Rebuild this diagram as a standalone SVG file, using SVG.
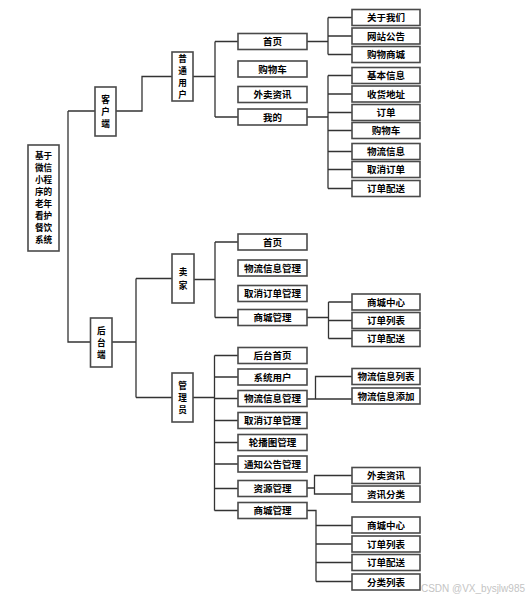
<svg xmlns="http://www.w3.org/2000/svg" width="530" height="602" viewBox="0 0 530 602">
<style>
rect{fill:#fff;stroke:#4a4a4a;stroke-width:1.6}
text{font-family:"Noto Sans CJK SC","Noto Sans",sans-serif;font-weight:bold;font-size:9.5px;fill:#000;text-anchor:middle}
.v{font-size:8.6px}
.c path{fill:none;stroke:#333;stroke-width:1.3}
.wm{font-family:"Liberation Sans",Arial,sans-serif;font-weight:normal;font-size:10px;fill:#c4c4c4;text-anchor:end}
</style>
<rect x="0" y="0" width="530" height="602" style="fill:#fff;stroke:none"/>
<g class="c" id="connectors">
<path d="M68 111V342H90.5M68 111H95"/>
<path d="M116 111H142V76.5H172"/>
<path d="M193 76.5H215M215 41.5V117M215 41.5H238M215 117H238"/>
<path d="M307 41.5H328M328 17.5V54.5M328 17.5H352M328 36H352M328 54.5H352"/>
<path d="M307 117H328M328 75.5V188.5M328 75.5H352M328 94H352M328 112.5H352M328 130.5H352M328 151.5H352M328 169.5H352M328 188.5H352"/>
<path d="M112 342H136M136 278.5V397.5M136 278.5H172M136 397.5H172"/>
<path d="M194 279.5H215M215 242V317.5M215 242H238M215 317.5H238"/>
<path d="M307 317.5H328.5M328.5 302V338.5M328.5 302H352M328.5 320.5H352M328.5 338.5H352"/>
<path d="M193 397.5H214.5M214.5 355.5V510.5M214.5 355.5H238M214.5 377H238M214.5 398.5H238M214.5 420.5H238M214.5 442.5H238M214.5 464H238M214.5 488.5H238M214.5 510.5H238"/>
<path d="M307 399H352M315.5 399V376.5H352"/>
<path d="M307 488H314.5V475.5H352M314.5 488V494H352"/>
<path d="M307 510.5H316V581.5M316 525.5H352M316 544H352M316 562.5H352M316 581.5H352"/>
</g>
<g id="root"><rect x="28" y="145" width="31" height="106"/>
<text class="v" x="43.5" y="159">基于</text><text class="v" x="43.5" y="171">微信</text><text class="v" x="43.5" y="183">小程</text><text class="v" x="43.5" y="195">序的</text><text class="v" x="43.5" y="207">老年</text><text class="v" x="43.5" y="219">看护</text><text class="v" x="43.5" y="231">餐饮</text><text class="v" x="43.5" y="243">系统</text></g>
<g id="kehuduan"><rect x="95" y="87" width="21" height="49"/><text class="v" x="105.5" y="102.5">客</text><text class="v" x="105.5" y="114.5">户</text><text class="v" x="105.5" y="126.5">端</text></g>
<g id="putongyonghu"><rect x="172" y="52" width="21" height="49"/><text class="v" x="182.5" y="62">普</text><text class="v" x="182.5" y="74">通</text><text class="v" x="182.5" y="86">用</text><text class="v" x="182.5" y="98">户</text></g>
<g id="houtaiduan"><rect x="90.5" y="318" width="21.5" height="49"/><text class="v" x="101.25" y="333.5">后</text><text class="v" x="101.25" y="345.5">台</text><text class="v" x="101.25" y="357.5">端</text></g>
<g id="maijia"><rect x="172" y="254" width="22" height="49"/><text class="v" x="183" y="275">卖</text><text class="v" x="183" y="288.5">家</text></g>
<g id="guanliyuan"><rect x="172" y="373" width="21" height="49"/><text class="v" x="182.5" y="388.5">管</text><text class="v" x="182.5" y="400.5">理</text><text class="v" x="182.5" y="412.5">员</text></g>
<g id="u-home"><rect x="238" y="33.5" width="69" height="16"/><text x="272.5" y="45">首页</text></g>
<g id="u-cart"><rect x="238" y="61" width="69" height="16"/><text x="272.5" y="72.5">购物车</text></g>
<g id="u-news"><rect x="238" y="86.5" width="69" height="16"/><text x="272.5" y="98">外卖资讯</text></g>
<g id="u-mine"><rect x="238" y="109" width="69" height="16"/><text x="272.5" y="120.5">我的</text></g>
<g id="h-about"><rect x="352" y="9.5" width="68" height="16"/><text x="386" y="21">关于我们</text></g>
<g id="h-notice"><rect x="352" y="28" width="68" height="16"/><text x="386" y="39.5">网站公告</text></g>
<g id="h-mall"><rect x="352" y="46.5" width="68" height="16"/><text x="386" y="58">购物商城</text></g>
<g id="m-info"><rect x="352" y="67.5" width="68" height="16"/><text x="386" y="79">基本信息</text></g>
<g id="m-addr"><rect x="352" y="86" width="68" height="16"/><text x="386" y="97.5">收货地址</text></g>
<g id="m-order"><rect x="352" y="104.5" width="68" height="16"/><text x="386" y="116">订单</text></g>
<g id="m-cart"><rect x="352" y="122.5" width="68" height="16"/><text x="386" y="134">购物车</text></g>
<g id="m-logi"><rect x="352" y="143.5" width="68" height="16"/><text x="386" y="155">物流信息</text></g>
<g id="m-cancel"><rect x="352" y="161.5" width="68" height="16"/><text x="386" y="173">取消订单</text></g>
<g id="m-deliver"><rect x="352" y="180.5" width="68" height="16"/><text x="386" y="192">订单配送</text></g>
<g id="s-home"><rect x="238" y="234" width="69" height="16"/><text x="272.5" y="245.5">首页</text></g>
<g id="s-logi"><rect x="238" y="260" width="69" height="16"/><text x="272.5" y="271.5">物流信息管理</text></g>
<g id="s-cancel"><rect x="238" y="285.5" width="69" height="16"/><text x="272.5" y="297">取消订单管理</text></g>
<g id="s-mall"><rect x="238" y="309.5" width="69" height="16"/><text x="272.5" y="321">商城管理</text></g>
<g id="sm-center"><rect x="352" y="294" width="68" height="16"/><text x="386" y="305.5">商城中心</text></g>
<g id="sm-list"><rect x="352" y="312.5" width="68" height="16"/><text x="386" y="324">订单列表</text></g>
<g id="sm-deliver"><rect x="352" y="330.5" width="68" height="16"/><text x="386" y="342">订单配送</text></g>
<g id="a-home"><rect x="238" y="347.5" width="69" height="16"/><text x="272.5" y="359">后台首页</text></g>
<g id="a-user"><rect x="238" y="369" width="69" height="16"/><text x="272.5" y="380.5">系统用户</text></g>
<g id="a-logi"><rect x="238" y="390.5" width="69" height="16"/><text x="272.5" y="402">物流信息管理</text></g>
<g id="a-cancel"><rect x="238" y="412.5" width="69" height="16"/><text x="272.5" y="424">取消订单管理</text></g>
<g id="a-banner"><rect x="238" y="434.5" width="69" height="16"/><text x="272.5" y="446">轮播图管理</text></g>
<g id="a-notice"><rect x="238" y="456" width="69" height="16"/><text x="272.5" y="467.5">通知公告管理</text></g>
<g id="a-res"><rect x="238" y="480.5" width="69" height="16"/><text x="272.5" y="492">资源管理</text></g>
<g id="a-mall"><rect x="238" y="502.5" width="69" height="16"/><text x="272.5" y="514">商城管理</text></g>
<g id="al-list"><rect x="352" y="368.5" width="68" height="16"/><text x="386" y="380">物流信息列表</text></g>
<g id="al-add"><rect x="352" y="388" width="68" height="16"/><text x="386" y="399.5">物流信息添加</text></g>
<g id="ar-news"><rect x="352" y="467.5" width="68" height="16"/><text x="386" y="479">外卖资讯</text></g>
<g id="ar-cat"><rect x="352" y="486" width="68" height="16"/><text x="386" y="497.5">资讯分类</text></g>
<g id="am-center"><rect x="352" y="517" width="68" height="16"/><text x="386" y="528.5">商城中心</text></g>
<g id="am-list"><rect x="352" y="536" width="68" height="16"/><text x="386" y="547.5">订单列表</text></g>
<g id="am-deliver"><rect x="352" y="554.5" width="68" height="16"/><text x="386" y="566">订单配送</text></g>
<g id="am-cat"><rect x="352" y="574" width="68" height="16"/><text x="386" y="585.5">分类列表</text></g>
<text class="wm" x="525" y="592">CSDN @VX_bysjlw985</text>
</svg>
